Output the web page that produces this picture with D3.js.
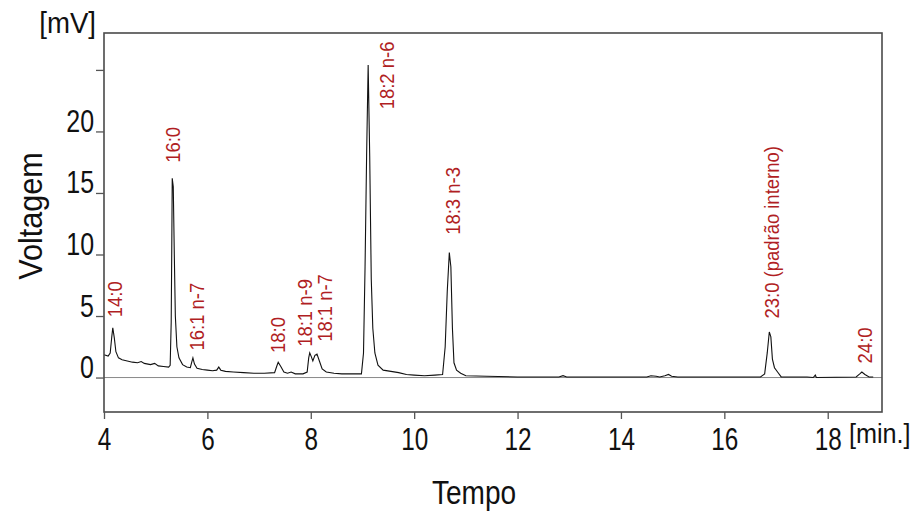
<!DOCTYPE html>
<html>
<head>
<meta charset="utf-8">
<script src="https://cdn.jsdelivr.net/npm/d3@7"></script>
<style>
  body { margin: 0; background: #fff; }
  .axis text { font-family: "Liberation Sans", Arial, sans-serif; font-size: 32px; fill: #111; }
  .axis path { display: none; }
  .axis line { stroke: #555; stroke-width: 1.3; }
  .title { font-family: "Liberation Sans", Arial, sans-serif; fill: #111; }
  .peak_label { font-family: "Liberation Sans", Arial, sans-serif; font-size: 20.5px; fill: #b01e23; }
</style>
</head>
<body>
<div id="chart"></div>
<script>
// chromatogram trace (time in min, voltage in mV)
var times = [4.00, 4.08, 4.12, 4.15, 4.17, 4.20, 4.23, 4.28, 4.35, 4.45, 4.55, 4.65, 4.72, 4.78, 4.90, 4.98, 5.05, 5.15, 5.25, 5.28,
    5.30, 5.31, 5.32, 5.34, 5.36, 5.38, 5.41, 5.45, 5.52, 5.60, 5.67, 5.70, 5.72, 5.75, 5.80, 5.90, 6.00, 6.10, 6.18, 6.22,
    6.26, 6.35, 6.50, 6.70, 6.90, 7.10, 7.30, 7.34, 7.37, 7.42, 7.48, 7.55, 7.62, 7.70, 7.85, 7.93, 7.96, 7.98, 8.01, 8.04,
    8.08, 8.12, 8.17, 8.22, 8.30, 8.45, 8.60, 8.80, 8.98, 9.02, 9.05, 9.08, 9.11, 9.14, 9.17, 9.20, 9.24, 9.30, 9.40, 9.55,
    9.70, 9.85, 10.00, 10.20, 10.40, 10.55, 10.60, 10.64, 10.68, 10.71, 10.74, 10.77, 10.82, 10.90, 11.00, 11.40, 12.00, 12.80, 12.88, 12.95,
    13.50, 14.50, 14.58, 14.68, 14.75, 14.85, 14.92, 14.98, 15.10, 16.00, 16.70, 16.78, 16.83, 16.87, 16.90, 16.93, 16.97, 17.03, 17.10, 17.60,
    17.72, 17.76, 17.78, 18.55, 18.62, 18.66, 18.72, 18.80, 18.88];
var volts = [1.85, 1.75, 2.0, 3.3, 4.05, 3.2, 2.1, 1.6, 1.45, 1.35, 1.25, 1.2, 1.3, 1.15, 1.05, 1.15, 0.95, 0.9, 0.85, 1.0,
    4.5, 10.0, 16.2, 15.5, 10.0, 5.0, 2.5, 1.6, 1.05, 0.85, 0.8, 1.3, 1.6, 1.1, 0.75, 0.65, 0.6, 0.55, 0.6, 0.85,
    0.6, 0.5, 0.45, 0.4, 0.35, 0.35, 0.4, 0.9, 1.25, 0.9, 0.45, 0.35, 0.45, 0.3, 0.3, 0.45, 1.6, 2.0, 1.7, 1.35,
    1.8, 1.9, 1.3, 0.7, 0.45, 0.35, 0.3, 0.3, 0.3, 2.0, 9.0, 18.0, 25.4, 18.0, 8.0, 4.0, 2.0, 1.0, 0.6, 0.5,
    0.4, 0.25, 0.2, 0.15, 0.2, 0.25, 2.5, 7.0, 10.15, 9.0, 4.0, 1.2, 0.6, 0.35, 0.15, 0.1, 0.05, 0.05, 0.15, 0.05,
    0.05, 0.05, 0.15, 0.1, 0.05, 0.15, 0.25, 0.1, 0.05, 0.05, 0.05, 0.3, 2.0, 3.7, 3.3, 1.5, 0.8, 0.45, 0.05, 0.05,
    0.0, 0.2, 0.0, 0.05, 0.3, 0.45, 0.25, 0.05, 0.05];

// peak annotations
var peakNames = ["14:0", "16:0", "16:1 n-7", "18:0", "18:1 n-9", "18:1 n-7", "18:2 n-6", "18:3 n-3", "23:0 (padrão interno)", "24:0"];
var peakLabelTimes = [4.21, 5.33, 5.80, 7.37, 7.89, 8.27, 9.47, 10.75, 16.92, 18.72];
var peakLabelLevels = [4.9, 17.45, 2.2, 2.0, 2.5, 2.9, 21.8, 11.6, 4.8, 1.15];

// axis ticks
var xTicks = [4, 6, 8, 10, 12, 14, 16, 18];
var yTicks = [0, 5, 10, 15, 20, 25];
var yTickLabels = ["0", "5", "10", "15", "20", ""];

var width = 920, height = 516;
var margin = {left: 104, right: 38, top: 33, bottom: 104};

var svg = d3.select("#chart")
    .append("svg")
        .attr("width", width)
        .attr("height", height);

var x = d3.scaleLinear()
    .domain([4, 19.05])
    .range([margin.left, width - margin.right]);

var y = d3.scaleLinear()
    .domain([-2.8, 28])
    .range([height - margin.bottom, margin.top]);

// squeeze text a bit, the original uses a narrow face
function narrow(sel, k) {
    sel.each(function() {
        var w = this.getComputedTextLength();
        if (w > 0) {
            d3.select(this)
                .attr("textLength", w * k)
                .attr("lengthAdjust", "spacingAndGlyphs");
        }
    });
}

// zero line
svg.append("line")
    .attr("x1", x.range()[0]).attr("x2", x.range()[1])
    .attr("y1", y(0)).attr("y2", y(0))
    .style("stroke", "#8a8a8a")
    .style("stroke-width", 1);

// trace
var data = times.map(function(t, i) { return {t: t, v: volts[i]}; });
var trace = d3.line()
    .x(function(d) { return x(d.t); })
    .y(function(d) { return y(d.v); });
svg.append("path")
    .datum(data)
    .attr("d", trace)
    .style("fill", "none")
    .style("stroke", "#111")
    .style("stroke-width", 1.1);

// frame
svg.append("rect")
    .attr("x", x.range()[0])
    .attr("y", y.range()[1])
    .attr("width", x.range()[1] - x.range()[0])
    .attr("height", y.range()[0] - y.range()[1])
    .style("fill", "none")
    .style("stroke", "#4a4a4a")
    .style("stroke-width", 1.6);

// x axis
var xaxis = svg.append("g")
    .attr("class", "axis")
    .attr("transform", "translate(0," + y.range()[0] + ")")
    .call(d3.axisBottom(x).tickValues(xTicks).tickSize(7).tickPadding(8).tickFormat(d3.format("d")));
narrow(xaxis.selectAll("text"), 0.76);

// y axis
var yaxis = svg.append("g")
    .attr("class", "axis")
    .attr("transform", "translate(" + x.range()[0] + ",0)")
    .call(d3.axisLeft(y).tickValues(yTicks).tickSize(8).tickPadding(2)
        .tickFormat(function(d, i) { return yTickLabels[i]; }));
yaxis.selectAll("text").attr("dy", "0em");
narrow(yaxis.selectAll("text"), 0.78);

// titles
svg.append("text")
    .attr("class", "title")
    .attr("x", 96).attr("y", 33)
    .style("font-size", "30px")
    .style("text-anchor", "end")
    .text("[mV]")
    .call(narrow, 0.92);

svg.append("text")
    .attr("class", "title")
    .attr("x", 849).attr("y", 443)
    .style("font-size", "28px")
    .style("text-anchor", "start")
    .text("[min.]")
    .call(narrow, 0.9);

svg.append("text")
    .attr("class", "title")
    .attr("x", 474).attr("y", 504)
    .style("font-size", "33px")
    .style("text-anchor", "middle")
    .text("Tempo")
    .call(narrow, 0.85);

svg.append("text")
    .attr("class", "title")
    .attr("transform", "translate(42,216) rotate(-90)")
    .style("font-size", "34px")
    .style("text-anchor", "middle")
    .text("Voltagem")
    .call(narrow, 0.9);

// peak labels
svg.selectAll(".peak_label")
    .data(peakNames)
    .enter()
    .append("text")
        .attr("class", "peak_label")
        .attr("transform", function(d, i) {
            return "translate(" + (x(peakLabelTimes[i]) + 7) + "," + y(peakLabelLevels[i]) + ") rotate(-90)";
        })
        .style("text-anchor", "start")
        .text(function(d) { return d; })
        .call(narrow, 0.9);
</script>
</body>
</html>
